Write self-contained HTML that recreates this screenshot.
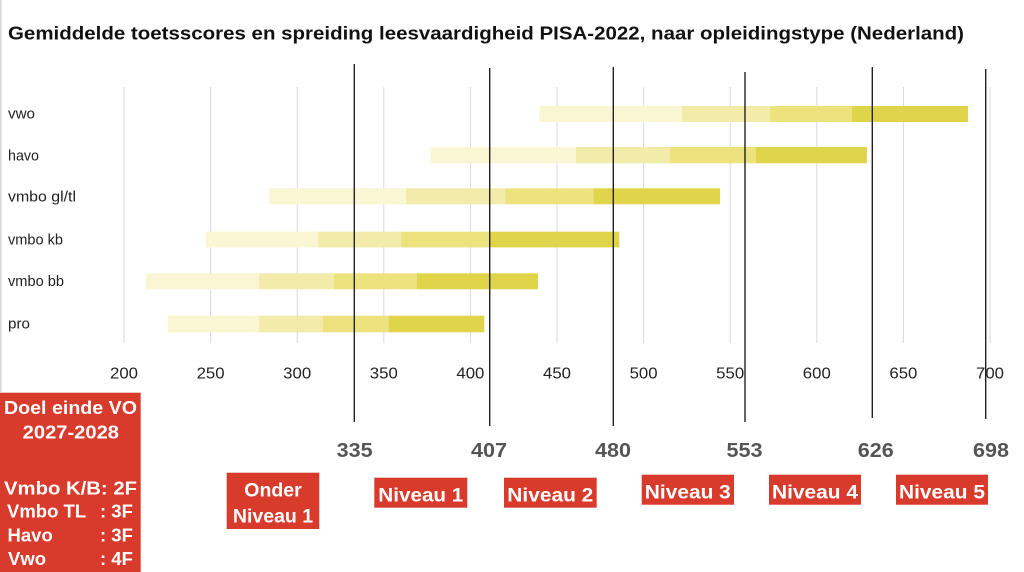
<!DOCTYPE html>
<html><head><meta charset="utf-8"><style>
html,body{margin:0;padding:0;background:#fff;}
svg{display:block;}
</style></head><body>
<svg width="1024" height="572" viewBox="0 0 1024 572" xmlns="http://www.w3.org/2000/svg" font-family="Liberation Sans, DejaVu Sans, sans-serif">
<rect x="0" y="0" width="1024" height="572" fill="#fff"/>
<rect x="0" y="0" width="1.5" height="392" fill="#d6d6d6"/>
<text x="8" y="39.5" font-size="18" font-weight="bold" fill="#111" textLength="956" lengthAdjust="spacingAndGlyphs">Gemiddelde toetsscores en spreiding leesvaardigheid PISA-2022, naar opleidingstype (Nederland)</text>
<!-- gridlines -->
<g stroke="#d9d9e1" stroke-width="1">
<line x1="124" y1="87" x2="124" y2="343"/>
<line x1="210.6" y1="87" x2="210.6" y2="343"/>
<line x1="297.2" y1="87" x2="297.2" y2="343"/>
<line x1="383.8" y1="87" x2="383.8" y2="343"/>
<line x1="470.4" y1="87" x2="470.4" y2="343"/>
<line x1="557" y1="87" x2="557" y2="343"/>
<line x1="643.6" y1="87" x2="643.6" y2="343"/>
<line x1="730.2" y1="87" x2="730.2" y2="343"/>
<line x1="816.8" y1="87" x2="816.8" y2="343"/>
<line x1="903.4" y1="87" x2="903.4" y2="343"/>
<line x1="990" y1="87" x2="990" y2="343"/>
</g>
<!-- bars -->
<g>
<rect x="539.5" y="106" width="142.5" height="16" fill="#faf5d2"/>
<rect x="682" y="106" width="88" height="16" fill="#f3eba9"/>
<rect x="770" y="106" width="82" height="16" fill="#ece27e"/>
<rect x="852" y="106" width="116" height="16" fill="#e0d44b"/>
<rect x="430.7" y="147" width="145.3" height="16.3" fill="#faf5d2"/>
<rect x="576" y="147" width="94" height="16.3" fill="#f3eba9"/>
<rect x="670" y="147" width="86" height="16.3" fill="#ece27e"/>
<rect x="756" y="147" width="111" height="16.3" fill="#e0d44b"/>
<rect x="269.3" y="188.3" width="136.7" height="16" fill="#faf5d2"/>
<rect x="406" y="188.3" width="99.3" height="16" fill="#f3eba9"/>
<rect x="505.3" y="188.3" width="88" height="16" fill="#ece27e"/>
<rect x="593.3" y="188.3" width="126.7" height="16" fill="#e0d44b"/>
<rect x="205.7" y="231.7" width="112.6" height="15.7" fill="#faf5d2"/>
<rect x="318.3" y="231.7" width="82.7" height="15.7" fill="#f3eba9"/>
<rect x="401" y="231.7" width="88.3" height="15.7" fill="#ece27e"/>
<rect x="489.3" y="231.7" width="130" height="15.7" fill="#e0d44b"/>
<rect x="146" y="273.3" width="113" height="16" fill="#faf5d2"/>
<rect x="259" y="273.3" width="75" height="16" fill="#f3eba9"/>
<rect x="334" y="273.3" width="82.7" height="16" fill="#ece27e"/>
<rect x="416.7" y="273.3" width="121.3" height="16" fill="#e0d44b"/>
<rect x="167.7" y="315.7" width="91.6" height="16.6" fill="#faf5d2"/>
<rect x="259.3" y="315.7" width="63.4" height="16.6" fill="#f3eba9"/>
<rect x="322.7" y="315.7" width="66" height="16.6" fill="#ece27e"/>
<rect x="388.7" y="315.7" width="95.6" height="16.6" fill="#e0d44b"/>
</g>
<!-- category labels -->
<g font-size="15" fill="#222">
<text x="8" y="118.5" textLength="27" lengthAdjust="spacingAndGlyphs">vwo</text>
<text x="8" y="160.5" textLength="31" lengthAdjust="spacingAndGlyphs">havo</text>
<text x="8" y="201.5" textLength="68" lengthAdjust="spacingAndGlyphs">vmbo gl/tl</text>
<text x="8" y="244.5" textLength="55" lengthAdjust="spacingAndGlyphs">vmbo kb</text>
<text x="8" y="286" textLength="56" lengthAdjust="spacingAndGlyphs">vmbo bb</text>
<text x="8" y="328.5" textLength="22" lengthAdjust="spacingAndGlyphs">pro</text>
</g>
<!-- tick labels -->
<g font-size="15.5" fill="#222" text-anchor="middle">
<text x="124" y="378.5" textLength="28" lengthAdjust="spacingAndGlyphs">200</text>
<text x="210.6" y="378.5" textLength="28" lengthAdjust="spacingAndGlyphs">250</text>
<text x="297.2" y="378.5" textLength="28" lengthAdjust="spacingAndGlyphs">300</text>
<text x="383.8" y="378.5" textLength="28" lengthAdjust="spacingAndGlyphs">350</text>
<text x="470.4" y="378.5" textLength="28" lengthAdjust="spacingAndGlyphs">400</text>
<text x="557" y="378.5" textLength="28" lengthAdjust="spacingAndGlyphs">450</text>
<text x="643.6" y="378.5" textLength="28" lengthAdjust="spacingAndGlyphs">500</text>
<text x="730.2" y="378.5" textLength="28" lengthAdjust="spacingAndGlyphs">550</text>
<text x="816.8" y="378.5" textLength="28" lengthAdjust="spacingAndGlyphs">600</text>
<text x="903.4" y="378.5" textLength="28" lengthAdjust="spacingAndGlyphs">650</text>
<text x="990" y="378.5" textLength="28" lengthAdjust="spacingAndGlyphs">700</text>
</g>
<!-- black threshold lines -->
<g stroke="#222" stroke-width="1.4">
<line x1="354.3" y1="64" x2="354.3" y2="422"/>
<line x1="489.7" y1="68" x2="489.7" y2="426"/>
<line x1="613.3" y1="67" x2="613.3" y2="426"/>
<line x1="745" y1="72" x2="745" y2="422"/>
<line x1="872.3" y1="67" x2="872.3" y2="418"/>
<line x1="985.7" y1="69" x2="985.7" y2="419"/>
</g>
<!-- threshold numbers -->
<g font-size="20.5" font-weight="bold" fill="#555" text-anchor="middle">
<text x="354.7" y="457" textLength="36" lengthAdjust="spacingAndGlyphs">335</text>
<text x="489" y="457" textLength="36" lengthAdjust="spacingAndGlyphs">407</text>
<text x="613" y="457" textLength="36" lengthAdjust="spacingAndGlyphs">480</text>
<text x="744.5" y="457" textLength="36" lengthAdjust="spacingAndGlyphs">553</text>
<text x="875.8" y="457" textLength="36" lengthAdjust="spacingAndGlyphs">626</text>
<text x="991" y="457" textLength="36" lengthAdjust="spacingAndGlyphs">698</text>
</g>
<!-- level boxes -->
<g fill="#d83a2b">
<rect x="226.7" y="472.7" width="92.6" height="56.3"/>
<rect x="374.3" y="477.7" width="93" height="30"/>
<rect x="504" y="477.7" width="92.7" height="30"/>
<rect x="641.7" y="474.7" width="92.3" height="30"/>
<rect x="769" y="474.7" width="92" height="30"/>
<rect x="896" y="474.7" width="92" height="30"/>
<rect x="0" y="392.7" width="140.7" height="179.3"/>
</g>
<g font-size="19.5" font-weight="bold" fill="#fff" text-anchor="middle">
<text x="273" y="496.7">Onder</text>
<text x="273" y="522.7">Niveau 1</text>
<text x="420.8" y="501.7" textLength="85" lengthAdjust="spacingAndGlyphs">Niveau 1</text>
<text x="550.3" y="501.7" textLength="86" lengthAdjust="spacingAndGlyphs">Niveau 2</text>
<text x="687.8" y="498.7" textLength="86" lengthAdjust="spacingAndGlyphs">Niveau 3</text>
<text x="815" y="498.7" textLength="86" lengthAdjust="spacingAndGlyphs">Niveau 4</text>
<text x="942" y="498.7" textLength="86" lengthAdjust="spacingAndGlyphs">Niveau 5</text>
</g>
<g font-size="18.5" font-weight="bold" fill="#fff">
<text x="4" y="414" textLength="133" lengthAdjust="spacingAndGlyphs">Doel einde VO</text>
<text x="22.7" y="438.3" textLength="96.3" lengthAdjust="spacingAndGlyphs">2027-2028</text>
<text x="4" y="494.3" textLength="133" lengthAdjust="spacingAndGlyphs">Vmbo K/B: 2F</text>
<text x="7" y="517.7">Vmbo TL</text>
<text x="100" y="517.7">: 3F</text>
<text x="7.5" y="541.7">Havo</text>
<text x="100" y="541.7">: 3F</text>
<text x="8" y="565">Vwo</text>
<text x="100" y="565">: 4F</text>
</g>
</svg>
</body></html>
